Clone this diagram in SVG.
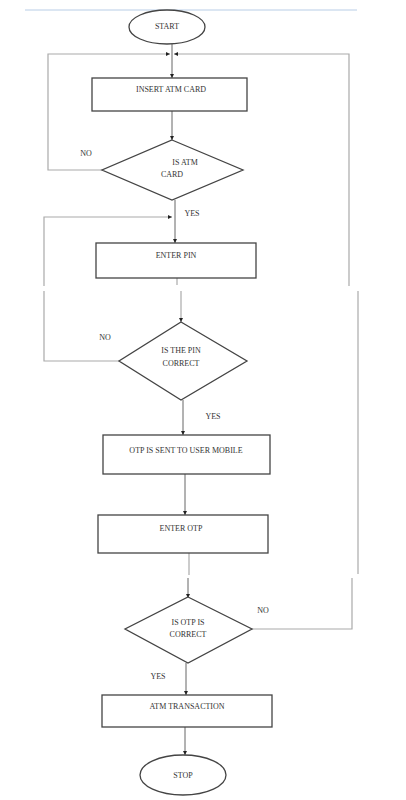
<svg xmlns="http://www.w3.org/2000/svg" width="406" height="800" viewBox="0 0 406 800">
<defs>
<marker id="ah" viewBox="0 0 10 10" refX="10" refY="5" markerWidth="4" markerHeight="4" orient="auto" markerUnits="userSpaceOnUse"><path d="M0,0 L10,5 L0,10 z" fill="#222"/></marker>
</defs>
<style>
.shape{fill:#fff;stroke:#444;stroke-width:1.3}
.ln{fill:none;stroke:#666;stroke-width:1}
.lp{fill:none;stroke:#aaa;stroke-width:1.2}
text{font-family:"Liberation Serif","Times New Roman",serif;font-size:8px;fill:#333;text-anchor:middle}
</style>
<rect width="406" height="800" fill="#fff"/>
<line x1="25" y1="10" x2="357" y2="10" stroke="#b8cde6" stroke-width="1"/>
<g id="connectors">
<line class="ln" x1="172" y1="44" x2="172" y2="78" marker-end="url(#ah)"/>
<polyline class="lp" points="102,170 48,170 48,54 170,54" marker-end="url(#ah)"/>
<polyline class="lp" points="349,286 349,54 174,54" marker-end="url(#ah)"/>
<line class="ln" x1="172" y1="111" x2="172" y2="140" marker-end="url(#ah)"/>
<line class="ln" x1="175" y1="200" x2="175" y2="243" marker-end="url(#ah)"/>
<polyline class="lp" points="44,286 44,217 172,217" marker-end="url(#ah)"/>
<polyline class="lp" points="119,361 44,361 44,291"/>
<line class="lp" x1="177" y1="278" x2="177" y2="285"/>
<line class="lp" x1="181" y1="291" x2="181" y2="322" marker-end="url(#ah)"/>
<line class="ln" x1="183" y1="400" x2="183" y2="435" marker-end="url(#ah)"/>
<line class="ln" x1="185" y1="474" x2="185" y2="515" marker-end="url(#ah)"/>
<line class="lp" x1="189" y1="553" x2="189" y2="575"/>
<line class="ln" x1="188" y1="578" x2="188" y2="598" marker-end="url(#ah)"/>
<line class="lp" x1="358" y1="291" x2="358" y2="574"/>
<polyline class="lp" points="252,629 352,629 352,578"/>
<line class="ln" x1="186" y1="663" x2="186" y2="695" marker-end="url(#ah)"/>
<line class="ln" x1="185" y1="727" x2="185" y2="755" marker-end="url(#ah)"/>
</g>
<g id="start"><ellipse class="shape" cx="167" cy="27" rx="38" ry="17"/><text x="167" y="29">START</text></g>
<g id="insert-card"><rect class="shape" x="92" y="78" width="155" height="33"/><text x="171" y="92">INSERT ATM CARD</text></g>
<g id="is-atm-card"><polygon class="shape" points="172,140 243,170 172,200 102,170"/><text x="185" y="165">IS ATM</text><text x="172" y="177">CARD</text></g>
<g id="enter-pin"><rect class="shape" x="96" y="243" width="160" height="35"/><text x="176" y="258">ENTER PIN</text></g>
<g id="is-pin-correct"><polygon class="shape" points="181,322 247,361 181,400 119,361"/><text x="181" y="353">IS THE PIN</text><text x="181" y="366">CORRECT</text></g>
<g id="otp-sent"><rect class="shape" x="103" y="435" width="167" height="39"/><text x="186" y="453">OTP IS SENT TO USER MOBILE</text></g>
<g id="enter-otp"><rect class="shape" x="98" y="515" width="170" height="38"/><text x="181" y="531">ENTER OTP</text></g>
<g id="is-otp-correct"><polygon class="shape" points="188,597 252,629 188,663 125,629"/><text x="188" y="625">IS OTP IS</text><text x="188" y="637">CORRECT</text></g>
<g id="atm-transaction"><rect class="shape" x="102" y="695" width="170" height="32"/><text x="187" y="709">ATM TRANSACTION</text></g>
<g id="stop"><ellipse class="shape" cx="183" cy="775" rx="43" ry="20"/><text x="183" y="778">STOP</text></g>
<g id="labels">
<text x="86" y="156">NO</text>
<text x="192" y="216">YES</text>
<text x="105" y="340">NO</text>
<text x="213" y="419">YES</text>
<text x="263" y="613">NO</text>
<text x="158" y="679">YES</text>
</g>
</svg>
